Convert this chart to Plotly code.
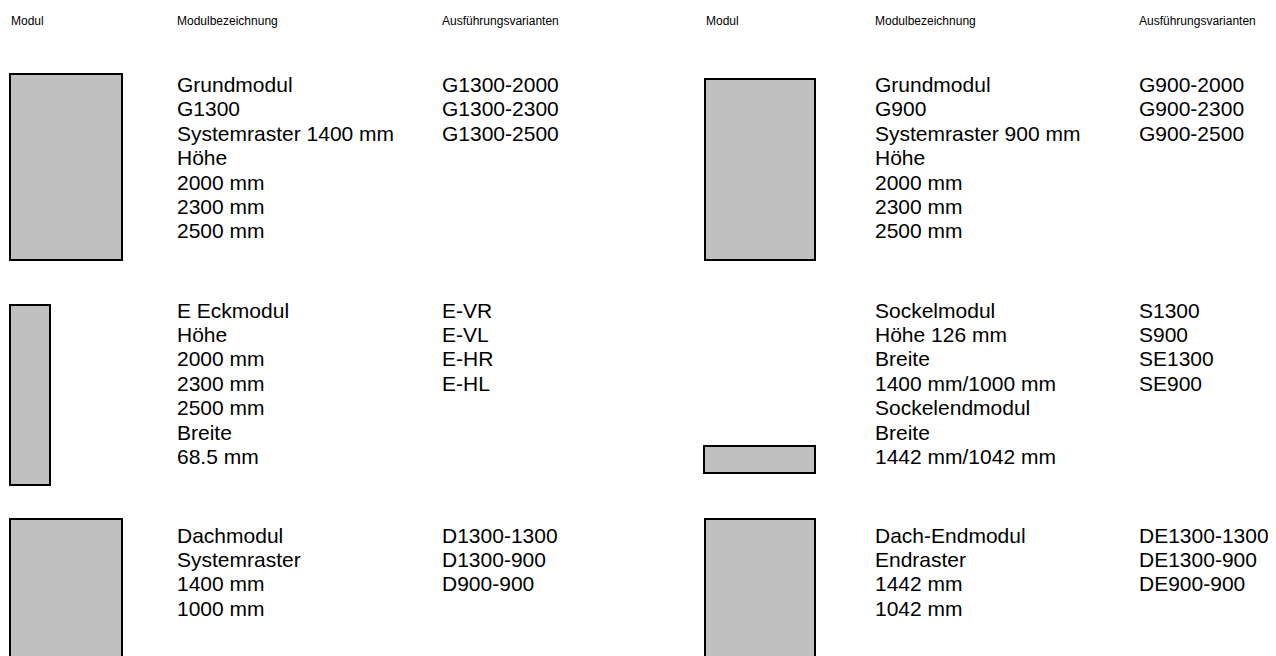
import plotly.graph_objects as go

# ---- data (text content) ----
header_labels = ["Modul", "Modulbezeichnung", "Ausführungsvarianten"]

grund1300_desc = ["Grundmodul", "G1300", "Systemraster 1400 mm", "Höhe", "2000 mm", "2300 mm", "2500 mm"]
grund1300_var = ["G1300-2000", "G1300-2300", "G1300-2500"]

grund900_desc = ["Grundmodul", "G900", "Systemraster 900 mm", "Höhe", "2000 mm", "2300 mm", "2500 mm"]
grund900_var = ["G900-2000", "G900-2300", "G900-2500"]

eck_desc = ["E Eckmodul", "Höhe", "2000 mm", "2300 mm", "2500 mm", "Breite", "68.5 mm"]
eck_var = ["E-VR", "E-VL", "E-HR", "E-HL"]

sockel_desc = ["Sockelmodul", "Höhe 126 mm", "Breite", "1400 mm/1000 mm", "Sockelendmodul", "Breite", "1442 mm/1042 mm"]
sockel_var = ["S1300", "S900", "SE1300", "SE900"]

dach_desc = ["Dachmodul", "Systemraster", "1400 mm", "1000 mm"]
dach_var = ["D1300-1300", "D1300-900", "D900-900"]

dachend_desc = ["Dach-Endmodul", "Endraster", "1442 mm", "1042 mm"]
dachend_var = ["DE1300-1300", "DE1300-900", "DE900-900"]

# ---- layout (positions / styles) ----
W, H = 1276, 656
OFF = 8  # page body margin compensation
FONT = "Liberation Sans, Arial, sans-serif"
HEAD_SIZE = 12
BODY_SIZE = 21
LINE = 24.4

col_left = [9, 175, 440]
col_right = [704, 873, 1137]
head_y = 21

blocks = [
    # (desc, variants, columns, first line y, rect x0, x1, y0, y1)
    (grund1300_desc, grund1300_var, col_left, 84.5, 10, 122, 74, 260),
    (grund900_desc, grund900_var, col_right, 84.5, 705, 815, 79, 260),
    (eck_desc, eck_var, col_left, 310, 10, 50, 305, 485),
    (sockel_desc, sockel_var, col_right, 310, 704, 815, 446, 473),
    (dach_desc, dach_var, col_left, 535, 10, 122, 519, 670),
    (dachend_desc, dachend_var, col_right, 535, 705, 815, 519, 670),
]

fig = go.Figure()
annotations = []
shapes = []

for cols in (col_left, col_right):
    for lab, cx in zip(header_labels, cols):
        annotations.append(dict(x=cx, y=head_y, text=lab, xref="x", yref="y",
                                xanchor="left", yanchor="middle", showarrow=False,
                                font=dict(family=FONT, size=HEAD_SIZE, color="#000000")))

for desc, var, cols, y0t, rx0, rx1, ry0, ry1 in blocks:
    shapes.append(dict(type="rect", xref="x", yref="y", x0=rx0, x1=rx1, y0=ry0, y1=ry1,
                       fillcolor="#c0c0c0", line=dict(color="#000000", width=2), layer="above"))
    for i, t in enumerate(desc):
        annotations.append(dict(x=cols[1], y=y0t + i * LINE, text=t, xref="x", yref="y",
                                xanchor="left", yanchor="middle", showarrow=False,
                                font=dict(family=FONT, size=BODY_SIZE, color="#000000")))
    for i, t in enumerate(var):
        annotations.append(dict(x=cols[2], y=y0t + i * LINE, text=t, xref="x", yref="y",
                                xanchor="left", yanchor="middle", showarrow=False,
                                font=dict(family=FONT, size=BODY_SIZE, color="#000000")))

# invisible trace to establish axes
fig.add_trace(go.Scatter(x=[OFF, W], y=[OFF, H], mode="markers", marker=dict(opacity=0),
                         hoverinfo="skip", showlegend=False))

fig.update_layout(
    width=W, height=H,
    margin=dict(l=0, r=0, t=0, b=0),
    paper_bgcolor="#ffffff", plot_bgcolor="#ffffff",
    xaxis=dict(range=[OFF, W + OFF], visible=False, fixedrange=True),
    yaxis=dict(range=[H + OFF, OFF], visible=False, fixedrange=True),
    annotations=annotations, shapes=shapes, showlegend=False,
)

fig.write_html("out.html", config={"displayModeBar": False})
